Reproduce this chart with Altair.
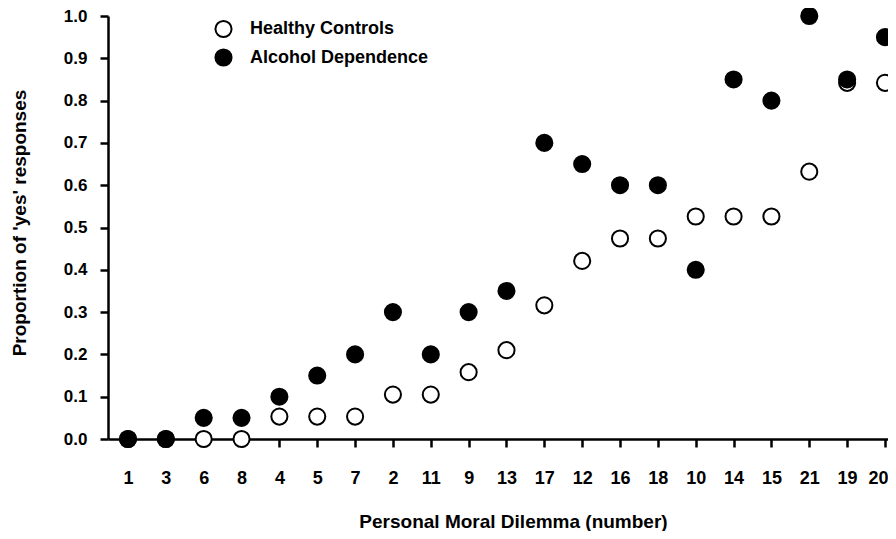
import altair as alt
import pandas as pd

dilemmas = ["1", "3", "6", "8", "4", "5", "7", "2", "11", "9", "13",
            "17", "12", "16", "18", "10", "14", "15", "21", "19", "20"]
healthy = [0.0, 0.0, 0.0, 0.0, 0.053, 0.053, 0.053, 0.105, 0.105, 0.158, 0.21,
           0.316, 0.421, 0.474, 0.474, 0.526, 0.526, 0.526, 0.632, 0.842, 0.842]
alcohol = [0.0, 0.0, 0.05, 0.05, 0.10, 0.15, 0.20, 0.30, 0.20, 0.30, 0.35,
           0.70, 0.65, 0.60, 0.60, 0.40, 0.85, 0.80, 1.00, 0.85, 0.95]
groups = ["Healthy Controls", "Alcohol Dependence"]
y_ticks = [0.0, 0.1, 0.2, 0.3, 0.4, 0.5, 0.6, 0.7, 0.8, 0.9, 1.0]

rows = []
for g, vals in zip(groups, [healthy, alcohol]):
    for i, (d, v) in enumerate(zip(dilemmas, vals)):
        rows.append({"idx": i, "dilemma": d, "group": g, "proportion": v})
df = pd.DataFrame(rows)

n = len(dilemmas)
label_expr = "[" + ",".join("'" + d + "'" for d in dilemmas) + "][datum.value]"

FONT = "Liberation Sans"
W, H = 780, 423

chart = alt.Chart(df).mark_circle(
    size=260, stroke="black", strokeWidth=2, opacity=1, fillOpacity=1
).encode(
    x=alt.X("idx:Q",
            scale=alt.Scale(domain=[-0.528, 20.08], nice=False, zero=False),
            axis=alt.Axis(values=list(range(n)), labelExpr=label_expr,
                          title="Personal Moral Dilemma (number)",
                          labelFontSize=18, labelPadding=36, labelBaseline="alphabetic",
                          labelOffset={"condition": {"test": f"datum.value == {n - 1}", "value": -7},
                                       "value": 0},
                          titleFontSize=19, titleX=405, titleY=88,
                          titleBaseline="alphabetic", titleAlign="center")),
    y=alt.Y("proportion:Q",
            scale=alt.Scale(domain=[0, 1], nice=False),
            axis=alt.Axis(values=y_ticks, format=".1f",
                          title="Proportion of 'yes' responses",
                          labelFontSize=17, labelPadding=13,
                          titleFontSize=19, titleX=-83, titleY=206.5,
                          titleAngle=270, titleBaseline="alphabetic",
                          titleAlign="center")),
    fill=alt.Fill("group:N",
                  scale=alt.Scale(domain=groups, range=["white", "black"]),
                  legend=alt.Legend(title=None, orient="none", legendX=106, legendY=3.5,
                                    symbolType="circle", symbolSize=260,
                                    symbolStrokeColor="black", symbolStrokeWidth=2,
                                    labelFont=FONT, labelFontSize=18, labelFontWeight="bold",
                                    labelColor="black", labelOffset=17, rowPadding=3.5,
                                    labelLimit=0, padding=0)),
    order=alt.Order("order_key:Q"),
).transform_calculate(
    order_key="datum.group == 'Alcohol Dependence' ? 1 : 0"
).properties(
    width=W, height=H,
    background="white",
    autosize=alt.AutoSizeParams(type="none"),
    padding={"left": 100, "top": 8, "right": 0, "bottom": 92},
).configure_view(
    stroke=None
).configure_axis(
    grid=False, domainColor="black", domainWidth=2.5, tickColor="black",
    tickWidth=2.5, tickSize=8, labelFont=FONT, labelFontWeight="bold",
    labelColor="black", titleFont=FONT, titleFontWeight="bold", titleColor="black",
    labelAngle=0, zindex=1
)

chart.save("out.html", embed_options={"renderer": "svg", "actions": False})
